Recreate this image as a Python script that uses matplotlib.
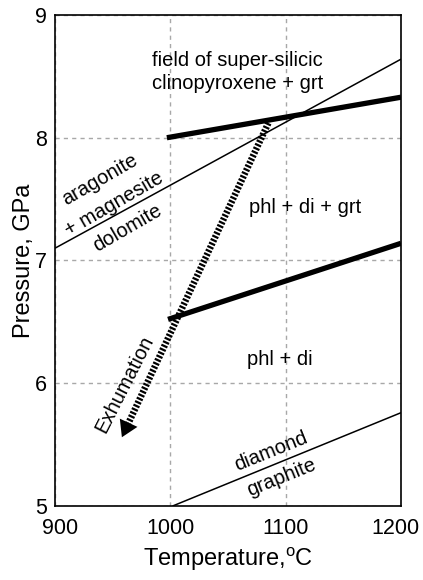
import matplotlib
matplotlib.use('Agg')
import matplotlib.pyplot as plt
import matplotlib.transforms as mtransforms

plt.rcParams['font.family'] = ['Liberation Sans', 'DejaVu Sans']
plt.rcParams['mathtext.fontset'] = 'custom'
plt.rcParams['mathtext.rm'] = 'Liberation Sans'
plt.rcParams['lines.scale_dashes'] = False

# reaction lines (temperature C, pressure GPa)
T_upper = [997, 1200]
P_upper = [8.00, 8.33]
T_lower = [998, 1200]
P_lower = [6.52, 7.14]
T_carb = [900, 1200]
P_carb = [7.10, 8.64]
T_dia = [1002, 1200]
P_dia = [5.00, 5.76]
# exhumation path: start -> arrow tip
T_exh = [1085, 958]
P_exh = [8.12, 5.56]

xticks = [900, 1000, 1100, 1200]
yticks = [5, 6, 7, 8, 9]

fig = plt.figure(figsize=(4.23, 5.8), dpi=100)
ax = fig.add_axes([0.130, 0.1276, 0.818, 0.8466])

ax.set_xlim(900, 1200)
ax.set_ylim(5, 9)
ax.set_xticks(xticks)
ax.set_yticks(yticks)
ax.tick_params(length=0, labelsize=15.5)
ax.tick_params(axis='x', pad=9)
ax.tick_params(axis='y', pad=5.5)
ax.grid(True, color='#a8a8a8', linestyle=(0, (3, 3)), linewidth=1.0)
for s in ax.spines.values():
    s.set_linewidth(1.2)

# end x labels sit slightly inward, as in the original
xl = ax.get_xticklabels()
xl[0].set_transform(xl[0].get_transform() + mtransforms.ScaledTranslation(4/72, 0, fig.dpi_scale_trans))
xl[-1].set_transform(xl[-1].get_transform() + mtransforms.ScaledTranslation(-4/72, 0, fig.dpi_scale_trans))

ax.plot(T_carb, P_carb, color='k', lw=1.1, solid_capstyle='butt')
ax.plot(T_dia, P_dia, color='k', lw=1.1, solid_capstyle='butt')
ax.plot(T_upper, P_upper, color='k', lw=3.8, solid_capstyle='butt')
ax.plot(T_lower, P_lower, color='k', lw=3.8, solid_capstyle='butt')

# dashed exhumation path, stopped just short of the arrow tip
f = 0.045
T_end = T_exh[1] + f * (T_exh[0] - T_exh[1])
P_end = P_exh[1] + f * (P_exh[0] - P_exh[1])
ax.plot([T_exh[0], T_end], [P_exh[0], P_end], color='k', lw=4.8,
        dashes=(1.6, 1.2), dash_capstyle='butt')
ax.annotate('', xy=(T_exh[1], P_exh[1]), xytext=(T_exh[0], P_exh[0]),
            arrowprops=dict(arrowstyle='-|>,head_length=1.15,head_width=0.7',
                            color='k', lw=0, shrinkA=0, shrinkB=0,
                            mutation_scale=10))

fs = 14.5
ax.text(1058, 8.535, 'field of super-silicic\nclinopyroxene + grt', fontsize=fs,
        ha='center', va='center', linespacing=1.28)
ax.text(1117, 7.43, 'phl + di + grt', fontsize=fs, ha='center', va='center')
ax.text(1095, 6.19, 'phl + di', fontsize=fs, ha='center', va='center')
ax.text(951, 7.46, 'aragonite\n+ magnesite\ndolomite', fontsize=fs,
        ha='center', va='center', rotation=30, rotation_mode='anchor',
        linespacing=1.6)
ax.text(960, 5.99, 'Exhumation', fontsize=fs, ha='center', va='center',
        rotation=63, rotation_mode='anchor')
ax.text(1092, 5.34, 'diamond\ngraphite', fontsize=fs, ha='center',
        va='center', rotation=22, rotation_mode='anchor', linespacing=1.6)

ax.set_xlabel('Temperature,$^{\\mathrm{o}}$C', fontsize=17, labelpad=4)
ax.set_ylabel('Pressure, GPa', fontsize=17, labelpad=0.5)

fig.savefig('out.png', dpi=100)
